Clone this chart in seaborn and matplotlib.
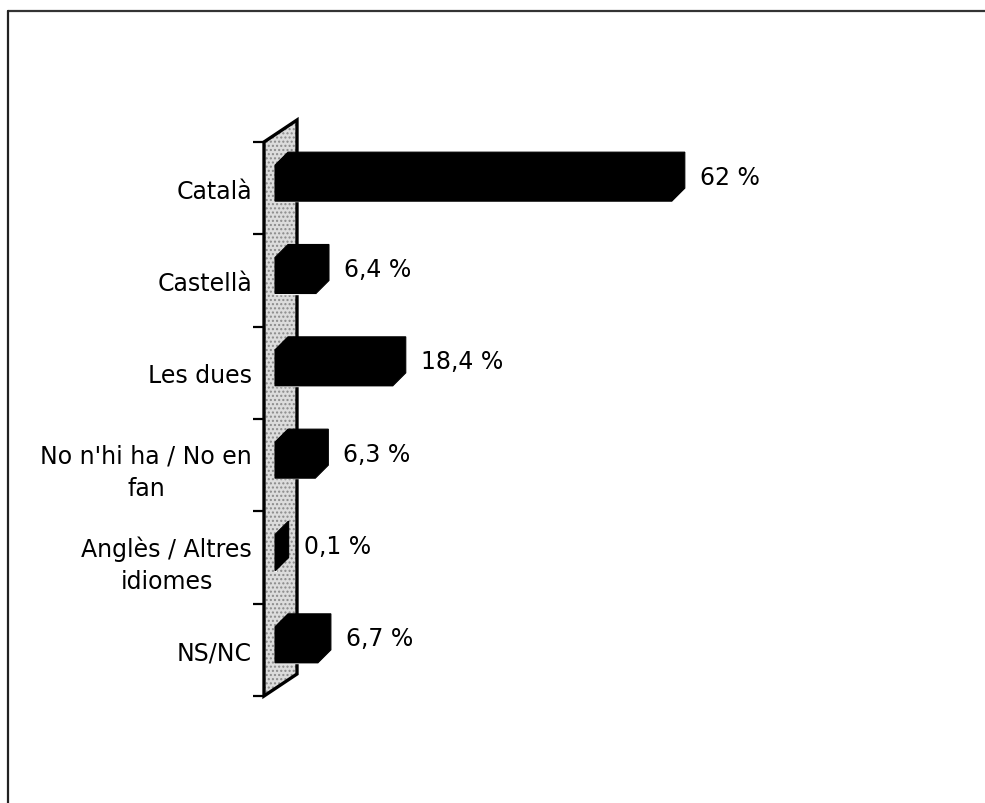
import matplotlib
matplotlib.use("Agg")
import matplotlib.pyplot as plt
from matplotlib.patches import Polygon
from matplotlib.lines import Line2D
import seaborn as sns
import pandas as pd
import numpy as np


# Data
categories = ["Català", "Castellà", "Les dues", "No n'hi ha / No en\nfan",
              "Anglès / Altres\nidiomes", "NS/NC"]
values = [62, 6.4, 18.4, 6.3, 0.1, 6.7]

df = pd.DataFrame({"idioma": categories, "pct": values})

sns.set_style("white")
plt.rcParams['font.family'] = ['DejaVu Sans']
plt.rcParams['text.color'] = 'black'
plt.rcParams['ytick.color'] = 'black'
plt.rcParams['ytick.labelcolor'] = 'black'

W, H = 985, 804
fig = plt.figure(figsize=(W / 100, H / 100), dpi=100)

# axes box in pixels
left_px, right_px, top_px, bot_px = 264, 900, 143, 697
ax = fig.add_axes([left_px / W, 1 - bot_px / H,
                   (right_px - left_px) / W, (bot_px - top_px) / H])

px_per_unit = 6.4
xmin = -11 / px_per_unit
xmax = xmin + (right_px - left_px) / px_per_unit
px_per_cat = (bot_px - top_px) / len(categories)

sns.barplot(data=df, x="pct", y="idioma", orient="h", color="black",
            width=0.39, saturation=1, ax=ax, zorder=3)
ax.set_xlim(xmin, xmax)
ax.set_ylim(len(categories) - 0.5, -0.5)

# depth of the 3D effect, in data units
dx = 13 / px_per_unit
dy = 13 / px_per_cat
wall_dx = 33 / px_per_unit
wall_dy = 22 / px_per_cat

# back wall (stippled grey)
n = len(categories)
wall = [(xmin, n - 0.5), (xmin, -0.5), (xmin + wall_dx, -0.5 - wall_dy),
        (xmin + wall_dx, n - 0.5 - wall_dy)]
ax.add_patch(Polygon(wall, closed=True, facecolor="#dcdcdc", edgecolor="#8a8a8a",
                     hatch="....", lw=0, clip_on=False, zorder=1))
ax.add_patch(Polygon(wall, closed=True, facecolor="none", edgecolor="black",
                     lw=2.4, clip_on=False, zorder=2))

# turn flat bars into 3D-looking bars
shift = 5 / px_per_cat
for p, v in zip(ax.patches, values):
    p.set_y(p.get_y() - shift)
    y0 = p.get_y()
    y1 = y0 + p.get_height()
    x1 = p.get_x() + p.get_width()
    hexa = [(0, y1), (0, y0), (dx, y0 - dy), (x1 + dx, y0 - dy),
            (x1 + dx, y1 - dy), (x1, y1)]
    ax.add_patch(Polygon(hexa, closed=True, facecolor="black", edgecolor="black",
                         lw=0.8, clip_on=False, zorder=4))
    label = f"{v:g}".replace(".", ",") + " %"
    ax.text(x1 + dx + 15 / px_per_unit, (y0 + y1) / 2 - dy / 2, label,
            va="center", ha="left", fontsize=17, color="black")

# axis styling
for s in ax.spines.values():
    s.set_visible(False)
ax.set_xlabel("")
ax.set_ylabel("")
ax.set_xticks([])
ax.tick_params(axis="y", which="major", left=True, length=0, pad=8.6,
               labelsize=17, labelcolor="black")
ax.set_yticks(np.arange(-0.5, n, 1.0), minor=True)
ax.tick_params(axis="y", which="minor", left=True, length=8, width=1.6,
               color="black", direction="out")
for t in ax.get_yticklabels():
    t.set_multialignment("center")
    t.set_linespacing(1.45)
    t.set_color("black")

# partial frame around the figure (top and left only)
fig.add_artist(Line2D([8 / W, 1], [1 - 12 / H, 1 - 12 / H], transform=fig.transFigure,
                      color="#333333", lw=1.6))
fig.add_artist(Line2D([8 / W, 8 / W], [0, 1 - 12 / H], transform=fig.transFigure,
                      color="#222222", lw=1.6))

fig.savefig("out.png", dpi=100, facecolor="white")
